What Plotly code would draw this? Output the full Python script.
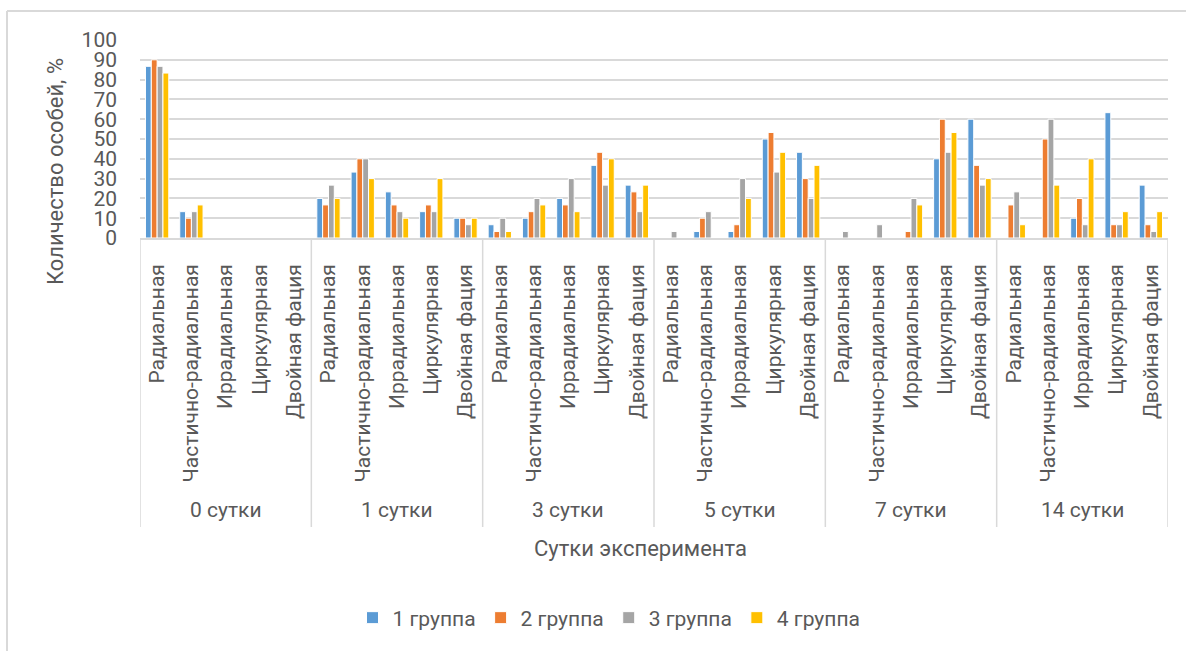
import plotly.graph_objects as go

# Experiment days and facia types (inner category level)
days = ["0 сутки", "1 сутки", "3 сутки", "5 сутки", "7 сутки", "14 сутки"]
facia_types = ["Радиальная", "Частично-радиальная", "Иррадиальная", "Циркулярная", "Двойная фация"]

series_names = ["1 группа", "2 группа", "3 группа", "4 группа"]
series_colors = ["#5B9BD5", "#ED7D31", "#A5A5A5", "#FFC000"]

# Share of individuals, %, per day (5 facia types each)
group1 = [86.7, 13.3, 0, 0, 0,
          20, 33.3, 23.3, 13.3, 10,
          6.7, 10, 20, 36.7, 26.7,
          0, 3.3, 3.3, 50, 43.3,
          0, 0, 0, 40, 60,
          0, 0, 10, 63.3, 26.7]
group2 = [90, 10, 0, 0, 0,
          16.7, 40, 16.7, 16.7, 10,
          3.3, 13.3, 16.7, 43.3, 23.3,
          0, 10, 6.7, 53.3, 30,
          0, 0, 3.3, 60, 36.7,
          16.7, 50, 20, 6.7, 6.7]
group3 = [86.7, 13.3, 0, 0, 0,
          26.7, 40, 13.3, 13.3, 6.7,
          10, 20, 30, 26.7, 13.3,
          3.3, 13.3, 30, 33.3, 20,
          3.3, 6.7, 20, 43.3, 26.7,
          23.3, 60, 6.7, 6.7, 3.3]
group4 = [83.3, 16.7, 0, 0, 0,
          20, 30, 10, 30, 10,
          3.3, 16.7, 13.3, 40, 26.7,
          0, 0, 20, 43.3, 36.7,
          0, 0, 16.7, 53.3, 30,
          6.7, 26.7, 40, 13.3, 13.3]

y_ticks = list(range(0, 101, 10))

series_values = [group1, group2, group3, group4]
n_types = len(facia_types)
positions = list(range(len(days) * n_types))
tick_text = facia_types * len(days)

FONT = "Roboto"
TXT = "#595959"
GRID = "#D9D9D9"

fig = go.Figure()
for name, color, vals in zip(series_names, series_colors, series_values):
    fig.add_trace(go.Bar(
        x=positions, y=vals, name=name,
        marker=dict(color=color, line=dict(color="white", width=1)),
    ))

# plot area in pixels: x 140..1168, y 40..238
L, R, T, B = 140, 18, 40, 413
W, H = 1186 - L - R, 651 - T - B


def px(xp):
    return (xp - L) / W


def py(yp):
    return 1 - (yp - T) / H


shapes = []
# group separators below the category axis
for k in range(len(days) + 1):
    xv = k * n_types - 0.5
    shapes.append(dict(type="line", xref="x", yref="paper",
                       x0=xv, x1=xv, y0=0, y1=py(527),
                       line=dict(color=GRID, width=1.5)))
# chart frame
shapes.append(dict(type="line", xref="paper", yref="paper",
                   x0=px(7), x1=px(1200), y0=py(11), y1=py(11),
                   line=dict(color=GRID, width=2)))
shapes.append(dict(type="line", xref="paper", yref="paper",
                   x0=px(7), x1=px(7), y0=py(11), y1=py(670),
                   line=dict(color=GRID, width=2)))

annotations = []
for k, d in enumerate(days):
    annotations.append(dict(text=d, xref="x", yref="paper",
                            x=k * n_types + (n_types - 1) / 2, y=py(510),
                            showarrow=False, xanchor="center", yanchor="middle",
                            font=dict(family=FONT, size=21, color=TXT)))
annotations.append(dict(text="Сутки эксперимента", xref="paper", yref="paper",
                        x=px(640), y=py(548), showarrow=False,
                        xanchor="center", yanchor="middle",
                        font=dict(family=FONT, size=22, color=TXT)))
annotations.append(dict(text="Количество особей, %", xref="paper", yref="paper",
                        x=px(55), y=py(172), showarrow=False, textangle=-90,
                        xanchor="center", yanchor="middle",
                        font=dict(family=FONT, size=22, color=TXT)))

fig.update_layout(
    width=1186, height=651,
    margin=dict(l=L, r=R, t=T, b=B, autoexpand=False),
    paper_bgcolor="white", plot_bgcolor="white",
    barmode="group", bargap=0.32, bargroupgap=0,
    font=dict(family=FONT, color=TXT),
    showlegend=True,
    legend=dict(orientation="h", x=px(609), y=py(618),
                xanchor="center", yanchor="middle",
                font=dict(family=FONT, size=21, color=TXT),
                itemwidth=30, tracegroupgap=0),
    shapes=shapes,
    annotations=annotations,
)
fig.update_xaxes(
    range=[-0.5, len(positions) - 0.5],
    tickmode="array", tickvals=positions, ticktext=tick_text,
    tickangle=-90, ticks="", ticklabelstandoff=16,
    tickfont=dict(family=FONT, size=21, color=TXT),
    showgrid=False, zeroline=False,
    showline=True, linecolor=GRID, linewidth=1.5,
    automargin=False, fixedrange=True,
)
fig.update_yaxes(
    range=[0, 100],
    tickmode="array", tickvals=y_ticks,
    ticks="", ticklabelstandoff=22,
    tickfont=dict(family=FONT, size=21, color=TXT),
    showgrid=True, gridcolor=GRID, gridwidth=1.5,
    zeroline=False, showline=False,
    automargin=False, fixedrange=True,
)

fig.write_html("out.html")
